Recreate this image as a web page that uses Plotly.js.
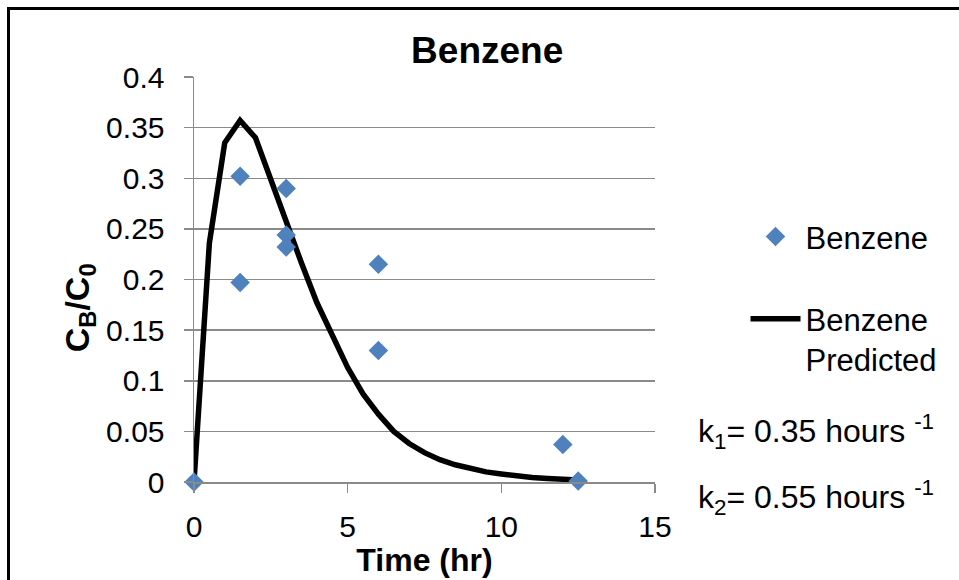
<!DOCTYPE html>
<html>
<head>
<meta charset="utf-8">
<script src="https://cdn.plot.ly/plotly-3.0.1.min.js"></script>
<style>
  html, body { margin: 0; padding: 0; background: #fff; }
  #wrap { position: relative; width: 959px; height: 580px; overflow: hidden; }
  #chart { width: 959px; height: 580px; }
  #frame { position: absolute; left: 7px; top: 7px; width: 1000px; height: 1000px;
           border: 3px solid #000; pointer-events: none; }
</style>
</head>
<body>
<div id="wrap">
  <div id="chart"></div>
  <div id="frame"></div>
</div>
<script>
// Measured data (Benzene)
const measTime = [0, 1.5, 1.5, 3, 3, 3, 6, 6, 12, 12.5];
const measConc = [0, 0.302, 0.197, 0.29, 0.244, 0.232, 0.215, 0.13, 0.037, 0.001];

// Predicted curve
const predTime = [0, 0.5, 1, 1.5, 2, 2.5, 3, 3.5, 4, 4.5, 5, 5.5, 6, 6.5, 7, 7.5, 8, 8.5, 9, 9.5, 10, 10.5, 11, 11.5, 12, 12.5];
const predConc = [0, 0.236, 0.335, 0.357, 0.340, 0.298, 0.256, 0.216, 0.177, 0.144, 0.113, 0.087, 0.067, 0.050, 0.038, 0.029, 0.022, 0.017, 0.013, 0.010, 0.008, 0.006, 0.0045, 0.0035, 0.0027, 0.002];

const xTicks = [0, 5, 10, 15];
const yTicks = [0, 0.05, 0.1, 0.15, 0.2, 0.25, 0.3, 0.35, 0.4];

const chartTitle = 'Benzene';
const xTitle = 'Time (hr)';
const yTitle = 'C<sub>B</sub>/C<sub>0</sub>';
const seriesNames = ['Benzene', 'Benzene<br>Predicted'];
const kNotes = ['k<sub>1</sub>= 0.35 hours <sup>-1</sup>', 'k<sub>2</sub>= 0.55 hours <sup>-1</sup>'];

const FONT = 'Liberation Sans, Arial, sans-serif';
const GRID = '#8a8a8a';

const traces = [
  {
    x: predTime, y: predConc, type: 'scatter', mode: 'lines',
    name: seriesNames[1], legendgroup: 'pred', legendrank: 2,
    line: { color: '#000000', width: 5.5 },
    cliponaxis: false, hoverinfo: 'skip'
  },
  {
    x: measTime, y: measConc, type: 'scatter', mode: 'markers',
    name: seriesNames[0], legendgroup: 'meas', legendrank: 1,
    marker: { symbol: 'diamond', size: 15, color: '#4F81BD' },
    cliponaxis: false, hoverinfo: 'skip'
  }
];

const layout = {
  width: 959, height: 580,
  paper_bgcolor: '#ffffff', plot_bgcolor: '#ffffff',
  margin: { l: 194, r: 304, t: 77, b: 98, pad: 0, autoexpand: false },
  font: { family: FONT, size: 30, color: '#000' },
  title: {
    text: '<b>' + chartTitle + '</b>',
    font: { family: FONT, size: 37, color: '#000' },
    xref: 'container', yref: 'container',
    x: 0.508, y: 0.914, xanchor: 'center', yanchor: 'middle'
  },
  xaxis: {
    range: [0, 15], tickvals: xTicks, ticktext: xTicks.map(String),
    showgrid: false, zeroline: false,
    showline: true, linecolor: GRID, linewidth: 1.5,
    ticks: 'outside', ticklen: 9, tickwidth: 1.5, tickcolor: GRID,
    ticklabelstandoff: 8,
    tickfont: { family: FONT, size: 30, color: '#000' },
    title: { text: '<b>' + xTitle + '</b>', font: { family: FONT, size: 32, color: '#000' }, standoff: 0 },
    fixedrange: true
  },
  yaxis: {
    range: [0, 0.4], tickvals: yTicks, ticktext: yTicks.map(String),
    showgrid: true, gridcolor: GRID, gridwidth: 1.5, zeroline: false,
    showline: true, linecolor: GRID, linewidth: 1.5,
    ticks: 'outside', ticklen: 9, tickwidth: 1.5, tickcolor: GRID,
    ticklabelstandoff: 13,
    tickfont: { family: FONT, size: 30, color: '#000' },
    title: { text: '<b>' + yTitle + '\u00a0\u00a0\u00a0\u00a0\u00a0\u00a0</b>', font: { family: FONT, size: 34, color: '#000' }, standoff: 6 },
    fixedrange: true
  },
  showlegend: true,
  legend: {
    xref: 'container', yref: 'container',
    x: 0.7774, y: 0.6383, xanchor: 'left', yanchor: 'top',
    bgcolor: 'rgba(0,0,0,0)', borderwidth: 0,
    font: { family: FONT, size: 31, color: '#000' },
    traceorder: 'grouped', tracegroupgap: 39, valign: 'top',
    itemwidth: 50
  },
  annotations: kNotes.map((t, i) => ({
    text: t, xref: 'paper', yref: 'paper',
    x: 1.09, y: i === 0 ? 0.125 : -0.038,
    xanchor: 'left', yanchor: 'middle', showarrow: false,
    font: { family: FONT, size: 32, color: '#000' }
  }))
};

Plotly.newPlot('chart', traces, layout, { displayModeBar: false, staticPlot: true });
</script>
</body>
</html>
